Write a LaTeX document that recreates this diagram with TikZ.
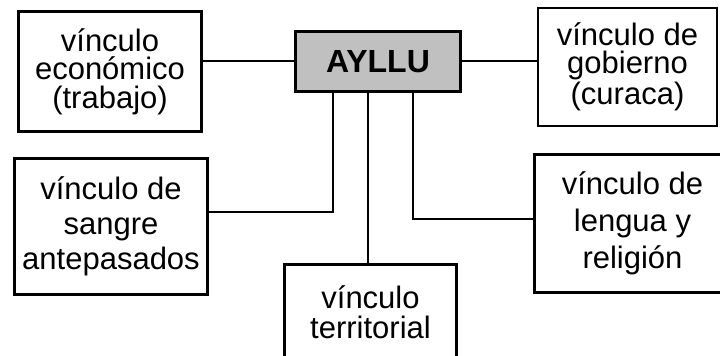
\documentclass[tikz,border=0pt]{standalone}
\usepackage{fontspec}
\setmainfont{Liberation Sans}
\definecolor{grisayllu}{HTML}{C0C0C0}

\begin{document}
\begin{tikzpicture}[x=0.5pt,y=-0.5pt,
        caja/.style={draw=black,line width=1.5pt,align=center,inner sep=0pt},
        lineas/.style={font=\fontsize{15.5}{#1}\selectfont},
        rama/.style={draw=black,line width=1pt}]
            \useasboundingbox (0,0) rectangle (720,356);

            \node[caja,fill=grisayllu,minimum width=82.5pt,minimum height=30pt,
                font=\fontsize{16}{18}\selectfont\bfseries] (ayllu) at (378,61.5) {AYLLU};

            \node[caja,lineas=14.25,minimum width=91.5pt,minimum height=60pt] (eco) at (110,71.5) {vínculo\\económico\\(trabajo)};
            \node[caja,line width=1pt,lineas=14.25,minimum width=89.5pt,minimum height=59pt] (gob) at (627.5,67) {vínculo de\\gobierno\\(curaca)};
            \node[caja,lineas=17.5,minimum width=96.5pt,minimum height=68pt] (sangre) at (111,226.5) {vínculo de\\sangre\\antepasados};
            \node[caja,line width=1.25pt,lineas=18.5,minimum width=98pt,minimum height=69pt] (lengua) at (632.5,223.5) {vínculo de\\lengua y\\religión};
            \node[caja,lineas=15,minimum width=86pt,minimum height=47.5pt] (terr) at (370.5,312) {vínculo\\territorial};

            % codos de las ramas
            \coordinate (codoS) at (333,212);
            \coordinate (codoT) at (368,263);
            \coordinate (codoL) at (413,219);

            \draw[rama] (ayllu.west) -- (ayllu.west -| eco.east);
            \draw[rama] (ayllu.east) -- (ayllu.east -| gob.west);
            \draw[rama] (ayllu.south -| codoS) |- (sangre.east |- codoS);
            \draw[rama] (ayllu.south -| codoT) -- (codoT |- terr.north);
            \draw[rama] (ayllu.south -| codoL) |- (lengua.west |- codoL);
        \end{tikzpicture}
\end{document}
